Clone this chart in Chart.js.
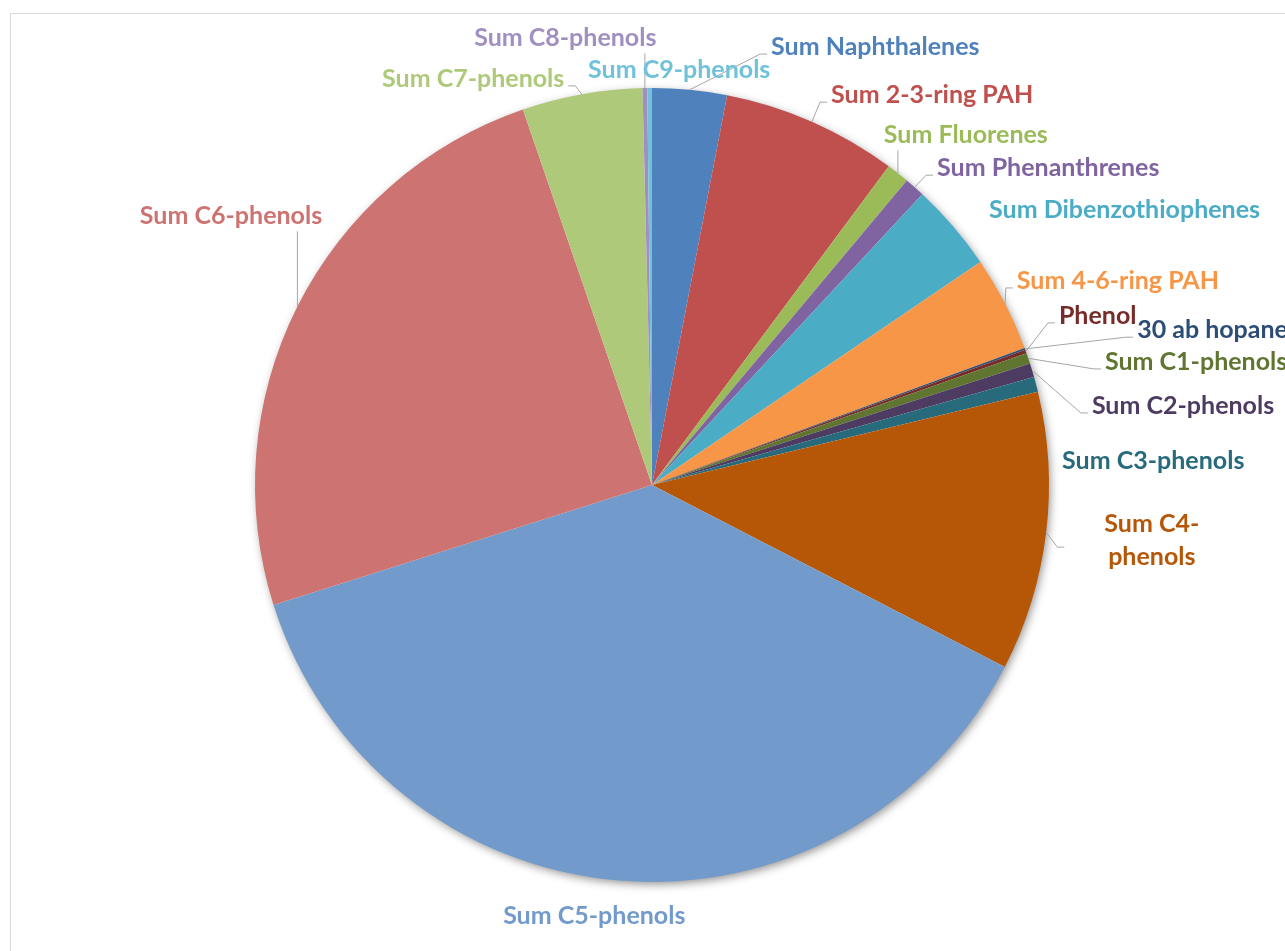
<!DOCTYPE html>
<html>
<head>
<meta charset="utf-8">
<script src="https://cdn.jsdelivr.net/npm/chart.js@4/dist/chart.umd.min.js"></script>
<style>
  html, body { margin: 0; padding: 0; background: #fff; }
  #wrap { position: relative; width: 1285px; height: 951px; }
  #frame { position: absolute; left: 10px; top: 13px; right: -2px; bottom: -2px; border: 1px solid #d9d9d9; }
  canvas { position: absolute; left: 0; top: 0; }
</style>
</head>
<body>
<div id="wrap">
  <div id="frame"></div>
  <canvas id="pie" width="1285" height="951"></canvas>
</div>
<script>
// --- Dados (percentual de cada componente) ---
const categories = [
  'Sum Naphthalenes', 'Sum 2-3-ring PAH', 'Sum Fluorenes', 'Sum Phenanthrenes',
  'Sum Dibenzothiophenes', 'Sum 4-6-ring PAH', '30 ab hopane', 'Phenol',
  'Sum C1-phenols', 'Sum C2-phenols', 'Sum C3-phenols', 'Sum C4-phenols',
  'Sum C5-phenols', 'Sum C6-phenols', 'Sum C7-phenols', 'Sum C8-phenols', 'Sum C9-phenols'
];
const values = [3.03, 7.14, 0.92, 0.83, 3.58, 3.89, 0.08, 0.14, 0.44, 0.56, 0.61, 11.36, 37.53, 24.61, 4.89, 0.19, 0.19];
const colors = [
  '#4F81BD', '#C0504D', '#9BBB59', '#8064A2', '#4BACC6', '#F79646',
  '#2C4D75', '#772C2A', '#5F7530', '#4D3B62', '#276A7C', '#B65708',
  '#729ACA', '#CD7371', '#AFC97A', '#A18FBF', '#6FC2D9'
];

// --- Posição dos rótulos, em raios a partir do centro ---
const labelLayout = [
  { ux: 0.300, uy: -1.103, lead: true },
  { ux: 0.451, uy: -0.982, lead: true },
  { ux: 0.584, uy: -0.882, lead: true },
  { ux: 0.718, uy: -0.798, lead: true },
  { ux: 0.849, uy: -0.693, lead: false },
  { ux: 0.919, uy: -0.514, lead: true },
  { ux: 1.222, uy: -0.390, lead: true },
  { ux: 1.025, uy: -0.426, lead: true },
  { ux: 1.141, uy: -0.310, lead: true },
  { ux: 1.108, uy: -0.199, lead: true },
  { ux: 1.033, uy: -0.060, lead: false },
  { ux: 1.259, uy: 0.139, lead: true, wrap: true, padL: 36 },
  { ux: -0.375, uy: 1.086, lead: false },
  { ux: -1.290, uy: -0.678, lead: true },
  { ux: -0.680, uy: -1.023, lead: true },
  { ux: -0.448, uy: -1.126, lead: true },
  { ux: -0.161, uy: -1.045, lead: false }
];

const FONT = 'bold 25px Lato, "Open Sans", sans-serif';
const LINE_H = 33;

// --- Sombra sob a pizza ---
const shadowPlugin = {
  id: 'pieShadow',
  beforeDatasetsDraw(chart) {
    const arc = chart.getDatasetMeta(0).data[0];
    if (!arc) return;
    const { x, y, outerRadius } = arc.getProps(['x', 'y', 'outerRadius'], true);
    const ctx = chart.ctx;
    ctx.save();
    ctx.shadowColor = 'rgba(0,0,0,0.45)';
    ctx.shadowBlur = 10;
    ctx.shadowOffsetX = 2;
    ctx.shadowOffsetY = 3;
    ctx.beginPath();
    ctx.arc(x, y, outerRadius - 1, 0, Math.PI * 2);
    ctx.fillStyle = '#fff';
    ctx.fill();
    ctx.restore();
  }
};

// --- Rótulos e linhas de chamada ---
const labelPlugin = {
  id: 'sliceLabels',
  afterDatasetsDraw(chart) {
    const ctx = chart.ctx;
    const meta = chart.getDatasetMeta(0);
    ctx.save();
    ctx.font = FONT;
    meta.data.forEach((arc, i) => {
      const p = arc.getProps(['x', 'y', 'startAngle', 'endAngle', 'outerRadius'], true);
      const lay = labelLayout[i];
      const R = p.outerRadius;
      const mid = (p.startAngle + p.endAngle) / 2;
      const ex = p.x + R * Math.cos(mid);
      const ey = p.y + R * Math.sin(mid);
      const lx = p.x + R * lay.ux;
      const cy = p.y + R * lay.uy;

      let lines = [categories[i]];
      if (lay.wrap) {
        const k = categories[i].indexOf('-') + 1;
        lines = [categories[i].slice(0, k), categories[i].slice(k)];
      }
      const widths = lines.map(t => ctx.measureText(t).width);
      const w = Math.max(...widths);
      const x1 = lay.wrap ? lx - w / 2 : lx;
      const x2 = x1 + w;
      const h = lines.length * LINE_H;
      const y1 = cy - h / 2 + 4;
      const y2 = cy + h / 2 - 4;

      if (lay.lead) {
        ctx.strokeStyle = '#a6a6a6';
        ctx.lineWidth = 1;
        ctx.beginPath();
        ctx.moveTo(ex, ey);
        if (ex < x1 - 2) {
          const tx = x1 - 4 - (lay.padL || 0);
          const ty = cy + 7;
          ctx.lineTo(tx - 7, ty);
          ctx.lineTo(tx, ty);
        } else if (ex > x2 + 2) {
          const tx = x2 + 4;
          const ty = cy + 7;
          ctx.lineTo(tx + 7, ty);
          ctx.lineTo(tx, ty);
        } else if (ey > y2) {
          ctx.lineTo(ex, y2 + 3);
        } else {
          ctx.lineTo(ex, y1 - 3);
        }
        ctx.stroke();
      }

      ctx.fillStyle = colors[i];
      ctx.textBaseline = 'middle';
      lines.forEach((t, j) => {
        const ly = cy - h / 2 + LINE_H * (j + 0.5);
        ctx.textAlign = lay.wrap ? 'center' : 'left';
        ctx.fillText(t, lx, ly);
      });
    });
    ctx.restore();
  }
};

new Chart(document.getElementById('pie'), {
  type: 'pie',
  data: {
    labels: categories,
    datasets: [{
      data: values,
      backgroundColor: colors,
      borderWidth: 0
    }]
  },
  options: {
    responsive: false,
    animation: false,
    layout: { padding: { left: 255, right: 236, top: 88, bottom: 69 } },
    plugins: {
      legend: { display: false },
      tooltip: { enabled: false }
    }
  },
  plugins: [shadowPlugin, labelPlugin]
});
</script>
</body>
</html>
